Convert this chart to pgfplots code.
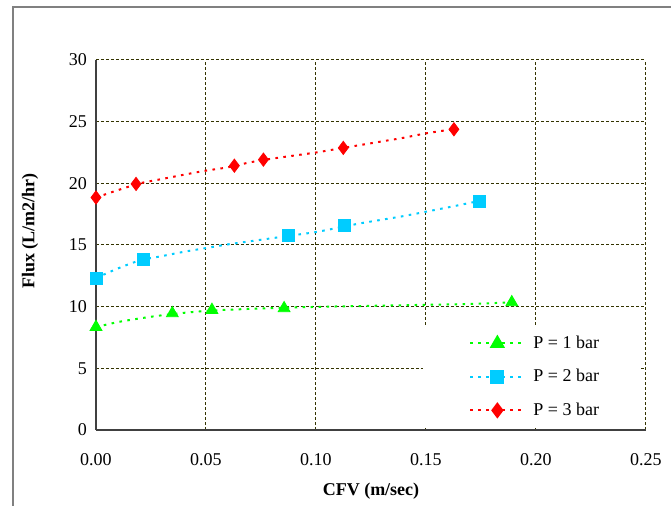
\documentclass[border=0pt]{standalone}
\usepackage{fontspec}
\setmainfont{Liberation Serif}
\usepackage{pgfplots}
\pgfplotsset{compat=1.18}
\definecolor{gridc}{RGB}{51,51,0}
\definecolor{cgreen}{RGB}{0,255,0}
\definecolor{cblue}{RGB}{0,204,255}
\definecolor{cred}{RGB}{255,0,0}
\begin{document}
\begin{tikzpicture}
\path[use as bounding box] (-48pt,-38pt) rectangle (287.5pt,215pt);
\draw[color=gray, line width=0.7pt] (-41.5pt,-40pt) -- (-41.5pt,211.5pt) -- (290pt,211.5pt);
\begin{axis}[
  at={(0,0)}, anchor=south west,
  scale only axis, width=275pt, height=185pt,
  xmin=0, xmax=0.25, ymin=0, ymax=30,
  xtick={0,0.05,0.1,0.15,0.2,0.25},
  ytick={0,5,10,15,20,25,30},
  grid=major,
  major grid style={color=gridc, line width=0.5pt, dash pattern=on 1.5pt off 1pt},
  axis x line*=bottom, axis y line*=left,
  axis line style={-, line width=0.6pt, color=black!75},
  major tick length=0pt,
  /pgf/number format/assume math mode=true,
  tick label style={font=\fontsize{9}{11}\selectfont, color=black},
  xticklabel style={/pgf/number format/.cd, fixed, fixed zerofill, precision=2, /tikz/.cd, yshift=-8pt},
  yticklabel style={xshift=-1pt},
  xlabel={CFV (m/sec)},
  ylabel={Flux (L/m2/hr)},
  every axis x label/.style={at={(axis description cs:0.5,-0.165)}, anchor=center, font=\bfseries\fontsize{9}{11}\selectfont},
  every axis y label/.style={at={(axis description cs:-0.12,0.538)}, anchor=center, rotate=90, font=\bfseries\fontsize{9}{11}\selectfont},
  legend style={at={(0.5945,0.004)}, anchor=south west, fill=white, draw=none,
    inner xsep=18pt, inner ysep=3pt, row sep=5pt, column sep=2pt, font=\fontsize{9}{11}\selectfont},
  legend cell align=left,
  legend image code/.code={\path (0pt,0pt); \draw[mark repeat=2,mark phase=2,#1] plot coordinates {(5pt,0pt)(18.5pt,0pt)(32pt,0pt)};},
]
% trend lines
\addplot[cred, line width=1pt, dash pattern=on 1.3pt off 2.7pt, smooth, forget plot] coordinates {
(0,18.85)(0.01,19.45)(0.02,20.0)(0.03,20.35)(0.04,20.7)(0.05,21.03)(0.06,21.3)(0.07,21.7)(0.08,22.0)(0.09,22.25)(0.10,22.5)(0.11,22.8)(0.12,23.1)(0.13,23.4)(0.14,23.7)(0.15,24.05)(0.1627,24.4)};
\addplot[cblue, line width=1pt, dash pattern=on 1.3pt off 2.7pt, smooth, forget plot] coordinates {
(0,12.32)(0.01,13.1)(0.02,13.75)(0.03,14.1)(0.04,14.45)(0.05,14.75)(0.06,15.05)(0.07,15.3)(0.08,15.55)(0.09,15.8)(0.10,16.05)(0.11,16.4)(0.12,16.75)(0.13,17.05)(0.14,17.35)(0.15,17.7)(0.16,18.05)(0.1742,18.57)};
\addplot[cgreen, line width=1pt, dash pattern=on 1.3pt off 2.7pt, smooth, forget plot] coordinates {
(0,8.35)(0.01,8.75)(0.02,9.05)(0.03,9.3)(0.04,9.5)(0.05,9.65)(0.06,9.75)(0.08,9.88)(0.10,9.98)(0.12,10.05)(0.15,10.15)(0.17,10.22)(0.189,10.35)};
% markers
\addplot[only marks, mark=diamond*, mark size=3.3pt, color=cred, forget plot] coordinates {
(0,18.85)(0.0182,19.95)(0.0629,21.43)(0.0761,21.92)(0.1124,22.87)(0.1627,24.38)};
\addplot[only marks, mark=square*, mark size=3pt, color=cblue, forget plot] coordinates {
(0,12.32)(0.0215,13.84)(0.0876,15.78)(0.1127,16.57)(0.1742,18.57)};
\addplot[only marks, mark=triangle*, mark size=3.4pt, color=cgreen, forget plot] coordinates {
(0,8.35)(0.0347,9.46)(0.0527,9.73)(0.0855,9.87)(0.189,10.35)};
% legend
\addlegendimage{cgreen, line width=1pt, dash pattern=on 1.3pt off 2.7pt, mark=triangle*, mark size=3.4pt, mark options={solid}}
\addlegendentry{P = 1 bar}
\addlegendimage{cblue, line width=1pt, dash pattern=on 1.3pt off 2.7pt, mark=square*, mark size=3pt, mark options={solid}}
\addlegendentry{P = 2 bar}
\addlegendimage{cred, line width=1pt, dash pattern=on 1.3pt off 2.7pt, mark=diamond*, mark size=3.3pt, mark options={solid}}
\addlegendentry{P = 3 bar}
\end{axis}
\end{tikzpicture}
\end{document}
